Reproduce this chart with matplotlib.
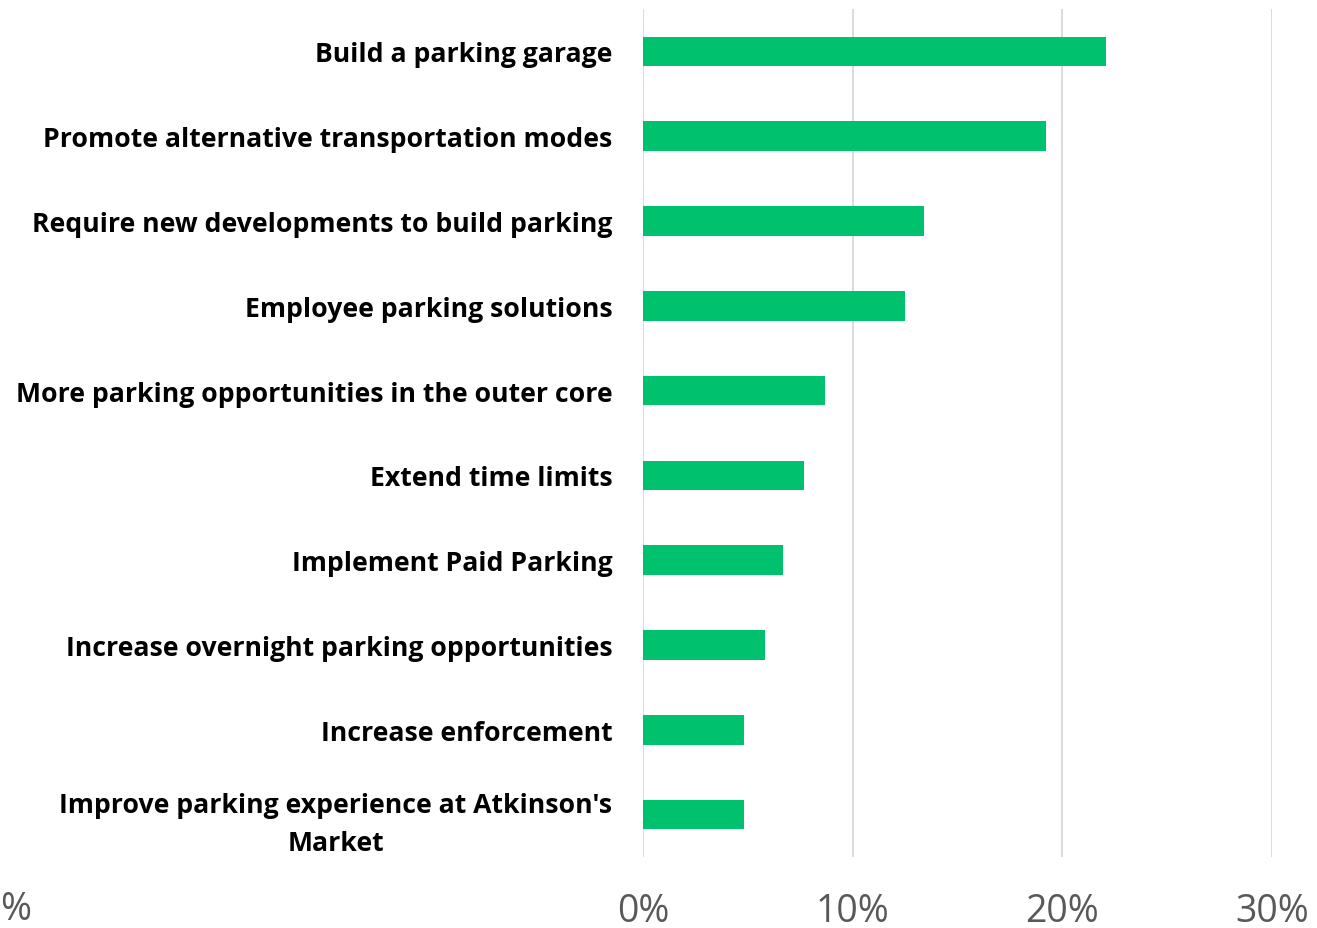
import matplotlib
matplotlib.use("Agg")
import matplotlib.pyplot as plt
from matplotlib.ticker import FuncFormatter

categories = [
    "Build a parking garage",
    "Promote alternative transportation modes",
    "Require new developments to build parking",
    "Employee parking solutions",
    "More parking opportunities in the outer core",
    "Extend time limits",
    "Implement Paid Parking",
    "Increase overnight parking opportunities",
    "Increase enforcement",
    "Improve parking experience at Atkinson's\nMarket",
]
values = [22.1, 19.2, 13.4, 12.5, 8.7, 7.7, 6.7, 5.8, 4.8, 4.8]
xticks = [0, 10, 20, 30]

fig = plt.figure(figsize=(13.17, 9.29), dpi=100)
ax = fig.add_axes([643/1317, 71/929, 629/1317, 848/929])

ypos = list(range(len(categories)))
ax.barh(ypos, values, height=0.35, color="#00C16E", zorder=3)
ax.set_ylim(len(categories) - 0.5, -0.5)
ax.set_xlim(0, 30)
ax.set_xticks(xticks)
ax.xaxis.set_major_formatter(FuncFormatter(lambda v, p: f"{v:.0f}%"))
ax.set_yticks(ypos)
ax.set_yticklabels(categories, fontfamily="Open Sans", fontweight="bold", fontsize=19.2,
                   multialignment="center", linespacing=1.6)
ax.tick_params(axis="y", length=0, pad=22)
ax.tick_params(axis="x", length=0, pad=25, labelsize=27, labelcolor="#595959")
for lab in ax.get_xticklabels():
    lab.set_fontfamily("Open Sans")
ax.grid(axis="x", color="#D9D9D9", linewidth=1.3, zorder=0)
for s in ax.spines.values():
    s.set_visible(False)

fig.text(0.0, 1 - 910/929, "%", fontsize=27, color="#595959",
         fontfamily="Open Sans", va="center", ha="left")

fig.savefig("out.png", dpi=100)
